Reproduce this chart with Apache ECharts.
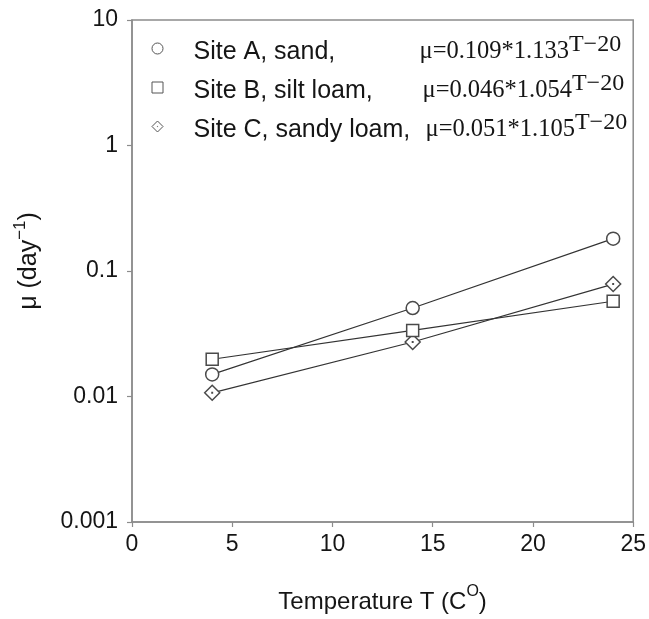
<!DOCTYPE html>
<html>
<head>
<meta charset="utf-8">
<script src="https://cdn.jsdelivr.net/npm/echarts@6/dist/echarts.min.js"></script>
<style>
  html, body { margin: 0; padding: 0; background: #fff; }
  #chart { width: 649px; height: 619px; }
</style>
</head>
<body>
<div id="chart"></div>
<script>
// ---- data ----
const temperatures = [4, 14, 24];
const siteA = [0.0150, 0.0507, 0.181];
const siteB = [0.0198, 0.0336, 0.0574];
const siteC = [0.0107, 0.0272, 0.0787];
const seriesNames = ['Site A, sand,', 'Site B, silt loam,', 'Site C, sandy loam,'];
const formulas = ['μ=0.109*1.133', 'μ=0.046*1.054', 'μ=0.051*1.105'];
const exponentText = 'T−20';
const yTickLabels = ['0.001', '0.01', '0.1', '1', '10'];
const xTitle = ['Temperature T (C', 'O', ')'];
const yTitle = ['μ (day', '−1', ')'];

// ---- styling ----
const SANS = '"Liberation Sans", Arial, Helvetica, sans-serif';
const SERIF = '"Liberation Serif", "Times New Roman", serif';
const AXIS_COLOR = '#8c8c8c';
const TEXT_COLOR = '#151515';
const diamondPath = 'path://M10,0 L20,10 L10,20 L0,10 Z M9.7,9.7 L10.3,9.7 L10.3,10.3 L9.7,10.3 Z';
const symbols = ['circle', 'rect', diamondPath];
const symbolSizes = [13, 12, 15];
const legendIcons = ['circle', 'rect', diamondPath];
const nameKeys = ['nA', 'nB', 'nC'];
const values = [siteA, siteB, siteC];

const chart = echarts.init(document.getElementById('chart'), null, { renderer: 'canvas' });

const series = seriesNames.map((name, i) => ({
  name: name,
  type: 'line',
  data: temperatures.map((t, j) => [t, values[i][j]]),
  symbol: symbols[i],
  symbolSize: symbolSizes[i],
  showAllSymbol: true,
  lineStyle: { color: '#333', width: 1.2 },
  itemStyle: { color: '#fff', borderColor: '#4a4a4a', borderWidth: 1.5 },
  emphasis: { disabled: true },
  z: 3 - i
}));

const richName = (w) => ({ fontFamily: SANS, fontSize: 25, color: TEXT_COLOR, width: w, lineHeight: 32, verticalAlign: 'bottom' });

const option = {
  animation: false,
  backgroundColor: '#fff',
  grid: {
    left: 132, right: 13, top: 20, bottom: 97,
    show: true, borderColor: AXIS_COLOR, borderWidth: 1.5, backgroundColor: 'transparent'
  },
  legend: {
    orient: 'vertical',
    left: 151.5,
    top: 32.5,
    padding: 0,
    itemGap: 7,
    itemWidth: 11,
    itemHeight: 11,
    selectedMode: false,
    itemStyle: { color: '#fff', borderColor: '#555', borderWidth: 1 },
    data: seriesNames.map((n, i) => ({ name: n, icon: legendIcons[i] })),
    formatter: function (name) {
      const i = seriesNames.indexOf(name);
      return '{g| }{' + nameKeys[i] + '|' + name + '}{f|' + formulas[i] + '}{s|' + exponentText + '}';
    },
    textStyle: {
      color: TEXT_COLOR,
      rich: {
        g: { width: 25.5, fontSize: 24, lineHeight: 32, verticalAlign: 'bottom' },
        nA: richName(226),
        nB: richName(229),
        nC: richName(232),
        f: { fontFamily: SERIF, fontSize: 24.5, color: TEXT_COLOR, lineHeight: 32, verticalAlign: 'bottom' },
        s: { fontFamily: SERIF, fontSize: 24, color: TEXT_COLOR, verticalAlign: 'top' }
      }
    }
  },
  xAxis: {
    type: 'value',
    min: 0, max: 25, interval: 5,
    name: '{t|' + xTitle[0] + '}{s|' + xTitle[1] + '}{t|' + xTitle[2] + '}',
    nameLocation: 'middle',
    nameGap: 62,
    nameTextStyle: {
      rich: {
        t: { fontFamily: SANS, fontSize: 24, color: TEXT_COLOR, lineHeight: 30, verticalAlign: 'bottom' },
        s: { fontFamily: SANS, fontSize: 16, color: TEXT_COLOR, verticalAlign: 'top' }
      }
    },
    axisLine: { show: true, onZero: false, lineStyle: { color: AXIS_COLOR, width: 1.5 } },
    axisTick: { show: true, inside: false, length: 5, lineStyle: { color: AXIS_COLOR, width: 1.2 } },
    axisLabel: { fontFamily: SANS, fontSize: 23, color: TEXT_COLOR, margin: 11 },
    splitLine: { show: false }
  },
  yAxis: {
    type: 'log',
    logBase: 10,
    min: 0.001, max: 10,
    name: '{t|' + yTitle[0] + '}{s|' + yTitle[1] + '}{t|' + yTitle[2] + '}',
    nameLocation: 'middle',
    nameGap: 90,
    nameTextStyle: {
      padding: [0, 0, 0, 20],
      rich: {
        t: { fontFamily: SANS, fontSize: 25, color: TEXT_COLOR, lineHeight: 30, verticalAlign: 'bottom' },
        s: { fontFamily: SANS, fontSize: 17, color: TEXT_COLOR, verticalAlign: 'top' }
      }
    },
    axisLine: { show: true, lineStyle: { color: AXIS_COLOR, width: 1.5 } },
    axisTick: { show: true, inside: false, length: 5, lineStyle: { color: AXIS_COLOR, width: 1.2 } },
    minorTick: { show: false },
    axisLabel: {
      fontFamily: SANS, fontSize: 23, color: TEXT_COLOR, margin: 14,
      formatter: function (v) {
        const k = Math.round(Math.log10(v)) + 3;
        return yTickLabels[k] !== undefined ? yTickLabels[k] : '';
      }
    },
    splitLine: { show: false }
  },
  series: series
};

chart.setOption(option);
</script>
</body>
</html>
